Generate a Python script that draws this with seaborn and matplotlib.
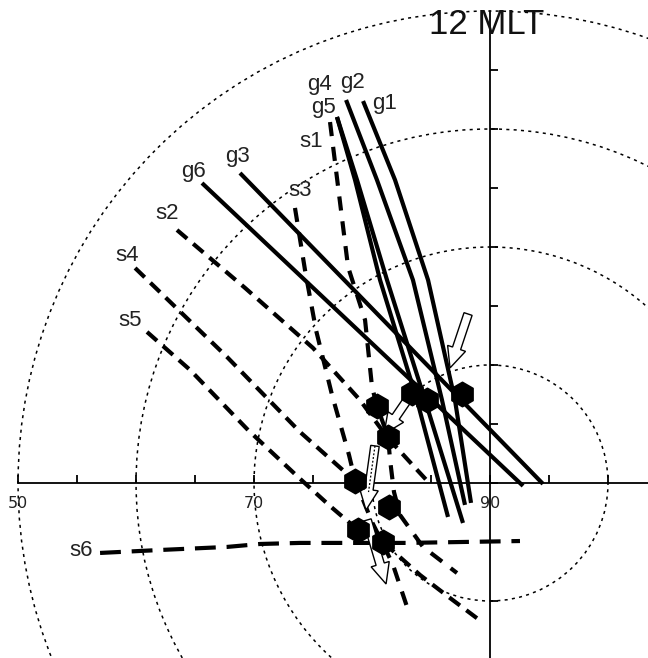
import numpy as np
import pandas as pd
import matplotlib
matplotlib.use("Agg")
import matplotlib.pyplot as plt
from matplotlib.patches import Circle
import seaborn as sns

# ---- footprint tracks, in degrees from the pole (x: dusk-dawn, y: toward noon) ----
g1_x = [-10.76, -8.05, -5.25, -2.97, -1.61]
g1_y = [32.37, 25.68, 17.20, 7.03, -1.69]
g2_x = [-12.20, -9.58, -6.53, -4.07, -2.12]
g2_y = [32.46, 25.68, 17.20, 7.03, -1.86]
g3_x = [-21.19, 4.49]
g3_y = [26.27, -0.08]
g4_x = [-12.97, -11.44, -9.32, -6.19, -3.56]
g4_y = [31.02, 25.68, 17.20, 7.03, -2.88]
g5_x = [-12.97, -11.27, -8.73, -5.51, -2.29]
g5_y = [31.02, 25.68, 17.20, 7.03, -3.39]
g6_x = [-24.41, 2.80]
g6_y = [25.42, -0.25]

s1_x = [-13.56, -12.03, -10.59, -10.00, -9.58, -8.64, -8.47, -8.14, -7.63, -5.68, -2.80]
s1_y = [30.59, 18.31, 13.81, 8.14, 6.53, 3.90, 1.95, -0.76, -2.71, -5.42, -7.63]
s2_x = [-26.53, -20.76, -15.00, -11.02, -8.73, -6.10, -5.08]
s2_y = [21.44, 16.53, 11.44, 7.03, 3.90, 1.02, -0.08]
s3_x = [-16.53, -15.68, -14.75, -13.39, -11.95, -11.44, -10.00, -9.15, -8.22, -7.03]
s3_y = [23.31, 18.05, 12.97, 7.46, 2.37, 0.25, -3.31, -5.00, -6.95, -10.51]
s4_x = [-30.08, -22.29, -16.10, -11.44]
s4_y = [18.22, 10.68, 4.32, 0.17]
s5_x = [-29.07, -25.42, -20.51, -16.27, -13.47, -11.19, -9.07, -5.93, -3.39, -0.68]
s5_y = [12.80, 9.58, 4.49, 0.51, -2.03, -3.98, -5.00, -7.80, -9.75, -11.78]
s6_x = [-33.05, -27.97, -22.29, -19.49, -16.10, -7.03, 2.54]
s6_y = [-5.93, -5.68, -5.42, -5.17, -5.08, -5.08, -4.92]

# conjunction points
hex_x = [-6.61, -5.34, -2.37, -9.58, -8.64, -11.44, -8.56, -11.19, -9.07]
hex_y = [7.63, 7.03, 7.54, 6.53, 3.90, 0.17, -2.03, -3.98, -5.00]

# flow arrows: tail and tip
arrow_tail_x = [-1.86, -6.78, -9.75, -10.42]
arrow_tail_y = [14.32, 7.37, 3.14, -3.14]
arrow_tip_x = [-3.39, -8.98, -10.51, -8.81]
arrow_tip_y = [9.75, 4.15, -2.29, -8.56]

# latitude grid
circle_colat = [10, 20, 30, 40]
axis_lat_labels = [50, 70, 90]
tick_step = 5

sns.set_style("white")
plt.rcParams["font.family"] = ["Liberation Sans", "DejaVu Sans"]

fig = plt.figure(figsize=(6.48, 6.58), dpi=100)
ax = fig.add_axes([0, 0, 1, 1])
ax.set_xlim(-41.53, 13.39)
ax.set_ylim(-14.83, 40.93)
ax.set_aspect("equal")
ax.axis("off")

# dotted latitude circles
for r in circle_colat:
    ax.add_patch(Circle((0, 0), r, fill=False, ec="black", lw=1.1,
                        ls=(0, (2.0, 2.8)), zorder=1))

# dawn-dusk and noon-midnight axes with ticks
ax.plot([-40, 15], [0, 0], color="black", lw=1.3, zorder=1.5)
ax.plot([0, 0], [40, -15], color="black", lw=1.3, zorder=1.5)
tick_len = 0.68
xt = np.arange(-40, 15, tick_step)
yt = np.arange(-10, 40, tick_step)
ax.vlines(xt, 0, tick_len, color="black", lw=1.3, zorder=1.5)
ax.hlines(yt, 0, tick_len, color="black", lw=1.3, zorder=1.5)
for lat in axis_lat_labels:
    ax.text(lat - 90, -1.78, str(lat), ha="center", va="center",
            fontsize=11.5, family="DejaVu Sans", color="#222222")

ax.text(-0.30, 38.85, "12 MLT", ha="center", va="center", fontsize=25,
        color="#111111", zorder=6)

# ground tracks (solid)
solid = {"g1": (g1_x, g1_y), "g2": (g2_x, g2_y), "g3": (g3_x, g3_y),
         "g4": (g4_x, g4_y), "g5": (g5_x, g5_y), "g6": (g6_x, g6_y)}
for name, (x, y) in solid.items():
    df = pd.DataFrame({"x": x, "y": y})
    sns.lineplot(data=df, x="x", y="y", sort=False, estimator=None, ax=ax,
                 color="black", lw=3.0, solid_capstyle="butt",
                 solid_joinstyle="round", zorder=2)

# satellite tracks (dashed)
dashed = {"s1": (s1_x, s1_y, (0, (3.4, 2.6))),
          "s2": (s2_x, s2_y, (0, (3.2, 1.9))),
          "s3": (s3_x, s3_y, (0, (3.4, 2.6))),
          "s4": (s4_x, s4_y, (0, (3.2, 1.9))),
          "s5": (s5_x, s5_y, (0, (3.2, 1.9))),
          "s6": (s6_x, s6_y, (0, (5.0, 2.6)))}
for name, (x, y, ls) in dashed.items():
    df = pd.DataFrame({"x": x, "y": y})
    sns.lineplot(data=df, x="x", y="y", sort=False, estimator=None, ax=ax,
                 color="black", lw=3.0, linestyle=ls, dash_capstyle="butt",
                 zorder=2)

# track labels
labels = {"g1": (-8.90, 32.20), "g2": (-11.69, 33.98), "g4": (-14.49, 33.81),
          "g5": (-14.07, 31.86), "s1": (-15.17, 28.98), "s3": (-16.10, 24.75),
          "g3": (-21.36, 27.63), "g6": (-25.17, 26.44), "s2": (-27.37, 22.80),
          "s4": (-30.76, 19.32), "s5": (-30.51, 13.81), "s6": (-34.66, -5.76)}
for name, (lx, ly) in labels.items():
    ax.text(lx, ly, name, ha="center", va="center", fontsize=16,
            color="#222222", zorder=6)

# hollow flow arrows
for i, (tx, ty, hx, hy) in enumerate(zip(arrow_tail_x, arrow_tail_y,
                                          arrow_tip_x, arrow_tip_y)):
    ax.arrow(tx, ty, hx - tx, hy - ty, width=0.72, head_width=1.6,
             head_length=1.75, length_includes_head=True, fc="white",
             ec="black", lw=1.0, zorder=3)
    if i == 2:
        ax.plot([tx, tx + 0.72 * (hx - tx)], [ty, ty + 0.72 * (hy - ty)],
                color="black", lw=0.9, ls=(0, (1.5, 1.5)), zorder=3.1)

# conjunction markers
sns.scatterplot(x=hex_x, y=hex_y, marker="h", s=300, color="black",
                edgecolor="black", ax=ax, zorder=4)

fig.savefig("out.png", dpi=100)
